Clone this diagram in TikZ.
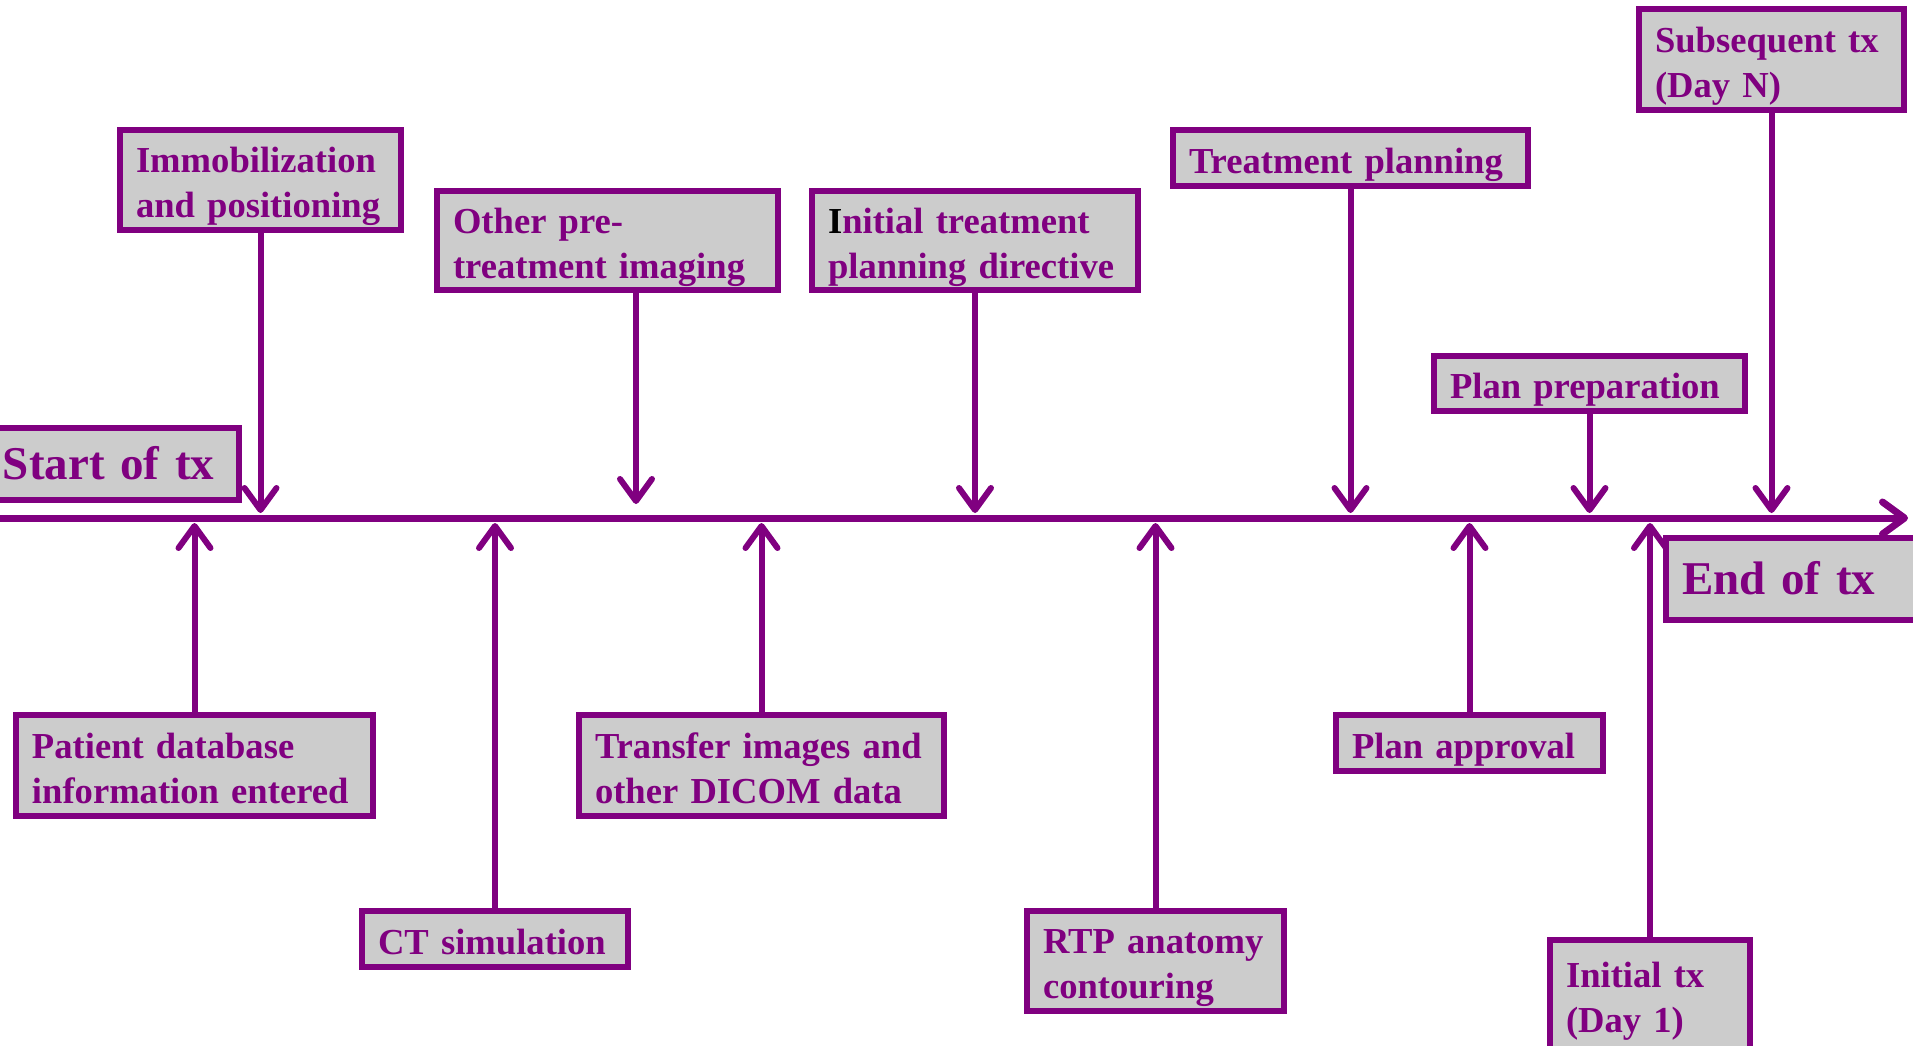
\documentclass[tikz,border=0pt]{standalone}
\usepackage{fontspec}
\setmainfont{Liberation Serif}
\usepackage{tikz}
\usetikzlibrary{positioning,arrows.meta}
\definecolor{tlpurple}{RGB}{128,0,128}
\definecolor{tlgray}{RGB}{204,204,204}

\begin{document}
\begin{tikzpicture}[x=0.5pt, y=-0.5pt,
  box/.style={draw=tlpurple, line width=3pt, fill=tlgray, text=tlpurple, align=left, anchor=north west,
    inner xsep=8pt, inner ysep=0pt, font=\bfseries\fontsize{18.3}{22.5}\selectfont,
    execute at begin node={\rule{0pt}{21pt}}, execute at end node={\rule[-6pt]{0pt}{0pt}}},
  big/.style={font=\bfseries\fontsize{23.5}{28}\selectfont},
  size/.style 2 args={text width=#1pt, minimum height=#2pt},
  arrow/.style={-{Straight Barb[length=11pt,width=16pt,round]}, line width=3pt, draw=tlpurple},
  axis/.style={-{Straight Barb[length=11pt,width=16pt,round]}, line width=3.5pt, draw=tlpurple}
]
\clip (0,0) rectangle (1913,1045);

% time line
\coordinate (axL) at (-10,518);
\coordinate (axR) at (1908,518);
\coordinate (dn) at (0,513);
\coordinate (up) at (0,523);
\draw[axis] (axL) -- (axR);

% events above the line
\node[box, big, size={110}{36}] (start) at (-16,425) {Start of tx};
\node[box, size={124.5}{50}] (immob) at (117,127) {Immobilization\\and positioning};
\node[box, size={154.5}{49.5}] (pretx) at (434,188) {Other pre-\\treatment imaging};
\node[box, size={147}{49.5}] (directive) at (809,188) {{\color{black}I}nitial treatment\\planning directive};
\node[box, size={161.5}{28}] (planning) at (1170,127) {Treatment planning};
\node[box, size={139.5}{27.5}] (prep) at (1431,353) {Plan preparation};
\node[box, size={116.5}{50.5}] (subseq) at (1636,6) {Subsequent tx\\(Day N)};

% events below the line
\node[box, big, size={121}{41}] (end) at (1663,535) {End of tx};
\node[box, size={162.5}{50.5}] (patient) at (13,712) {Patient database\\information entered};
\node[box, size={117}{28}] (ct) at (359,908) {CT simulation};
\node[box, size={166.5}{50.5}] (transfer) at (576,712) {Transfer images and\\other DICOM data};
\node[box, size={112.5}{50}] (rtp) at (1024,908) {RTP anatomy\\contouring};
\node[box, size={117.5}{28}] (approval) at (1333,712) {Plan approval};
\node[box, size={84}{55}] (initial) at (1547,937) {Initial tx\\(Day 1)};

% connectors
\coordinate (pretip) at (636,504);
\draw[arrow] (immob.south) -- (immob.south |- dn);
\draw[arrow] (pretx.south -| pretip) -- (pretip);
\draw[arrow] (directive.south) -- (directive.south |- dn);
\draw[arrow] (planning.south) -- (planning.south |- dn);
\draw[arrow] (prep.south) -- (prep.south |- dn);
\draw[arrow] (subseq.south) -- (subseq.south |- dn);
\draw[arrow] (patient.north) -- (patient.north |- up);
\draw[arrow] (ct.north) -- (ct.north |- up);
\draw[arrow] (transfer.north) -- (transfer.north |- up);
\draw[arrow] (rtp.north) -- (rtp.north |- up);
\draw[arrow] (approval.north) -- (approval.north |- up);
\draw[arrow] (initial.north) -- (initial.north |- up);
\end{tikzpicture}
\end{document}
